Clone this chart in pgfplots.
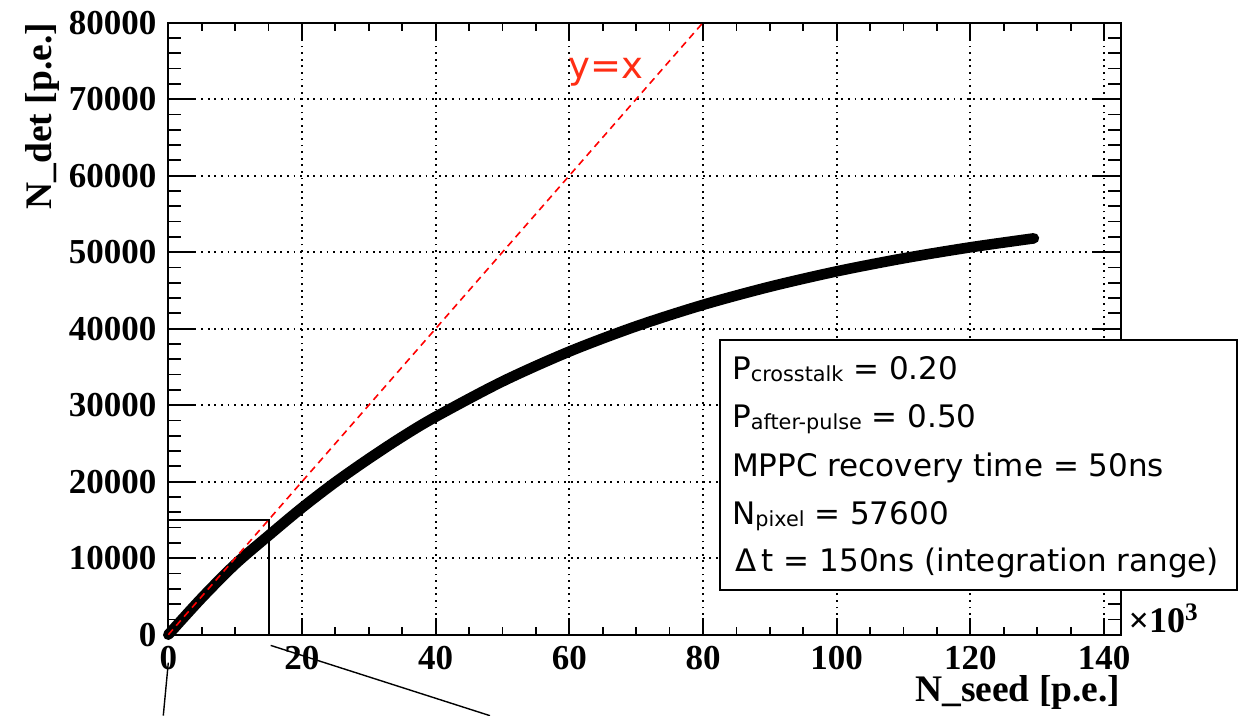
\documentclass[border=0pt]{standalone}
\usepackage{fontspec}
\setmainfont{Liberation Serif}
\newfontfamily\dejavu{DejaVu Sans}
\usepackage{pgfplots}
\pgfplotsset{compat=1.18}
\definecolor{rootred}{RGB}{255,45,20}

\begin{document}
\begin{tikzpicture}
\pgfplotsset{
  common/.style={width=476.35pt,height=306.15pt,scale only axis,
    xmin=0,xmax=142.5,ymin=0,ymax=80000,
    scaled x ticks=false, scaled y ticks=false,
    axis line style={line width=1pt},
    tick align=inside,
    every tick/.style={black,line width=0.9pt},
    grid style={black,line width=0.9pt,dash pattern=on 0.9pt off 2.4pt},
    ticklabel style={font=\bfseries\fontsize{17.5}{20}\selectfont, inner sep=0pt},
  }
}
\begin{axis}[common,
  xtick=\empty,
  ytick={0,10000,20000,30000,40000,50000,60000,70000,80000},
  yticklabels={0,10000,20000,30000,40000,50000,60000,70000,80000},
  minor y tick num=4, ymajorgrids, ytick pos=both,
  major tick length=14pt, minor tick length=6.5pt,
  yticklabel style={anchor=east, xshift=-5.8pt}]
\end{axis}
\begin{axis}[common, clip=false,
  ytick=\empty,
  xtick={0,20,40,60,80,100,120,140},
  xticklabels={0,20,40,60,80,100,120,140},
  minor x tick num=3, xmajorgrids, xtick pos=both,
  major tick length=8.5pt, minor tick length=4pt,
  xticklabel style={anchor=north, yshift=-5.8pt}]
\addplot[black, line width=1pt] coordinates {(0,0)(0,15000)(15,15000)(15,0)};
\addplot[black, line width=5.3pt, line cap=round, smooth] coordinates {
(0,0)(5,4800)(10,9200)(15,12950)(20,16590)(25,19940)(30,23000)(35,25870)(40,28480)
(50,33100)(60,37010)(70,40310)(80,43110)(90,45480)(100,47490)(110,49190)(120,50630)(129.5,51800)};
\addplot[red, line width=0.8pt, dash pattern=on 3.5pt off 2.5pt] coordinates {(0,0)(80,80000)};
\addplot[black, line width=0.7pt] coordinates {(15.32,-1398)(48.13,-10581)};
\addplot[black, line width=0.7pt] coordinates {(0,-3658)(-0.75,-10581)};
\draw[fill=white, line width=1pt] (axis cs:82.54,5879) rectangle (axis cs:159.89,38537);
\begin{scope}[every node/.style={anchor=base west, inner sep=0pt, font=\dejavu\fontsize{15.5}{18}\selectfont}]
\node at (axis cs:84.3,33312) {P\raisebox{-1pt}{\fontsize{10.4}{12}\selectfont crosstalk} = 0.20};
\node at (axis cs:84.3,27041) {P\raisebox{-1pt}{\fontsize{10.4}{12}\selectfont after-pulse} = 0.50};
\node at (axis cs:84.3,20680) {MPPC recovery time = 50ns};
\node at (axis cs:84.3,14370) {N\raisebox{-1pt}{\fontsize{10.4}{12}\selectfont pixel} = 57600};
\node at (axis cs:84.8,8269) {Δ\,t = 150ns (integration range)};
\end{scope}
\node[anchor=base west, inner sep=0pt, text=rootred, font=\dejavu\fontsize{18.5}{20}\selectfont] at (axis cs:59.8,72724) {y=x};
\node[anchor=base west, inner sep=0pt, font=\bfseries\fontsize{18}{20}\selectfont] at (axis cs:143.6,261) {×10\textsuperscript{3}};
\node[anchor=base east, inner sep=0pt, font=\bfseries\fontsize{18.75}{20}\selectfont] at ([yshift=-33.5pt]rel axis cs:1,0) {N\_seed [p.e.]};
\node[rotate=90, anchor=base east, inner sep=0pt, font=\bfseries\fontsize{18.75}{20}\selectfont] at ([xshift=-58.2pt]rel axis cs:0,1) {N\_det [p.e.]};
\coordinate (bl) at (axis cs:-25.18,-10581);
\coordinate (tr) at (axis cs:160.19,82952);
\end{axis}
\pgfresetboundingbox
\path[use as bounding box] (bl) rectangle (tr);
\end{tikzpicture}
\end{document}
